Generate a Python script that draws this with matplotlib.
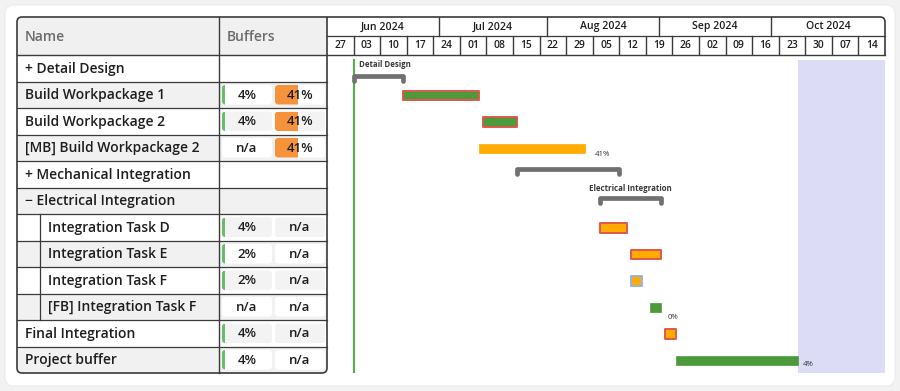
import matplotlib
matplotlib.use('Agg')
import matplotlib.pyplot as plt
import matplotlib.dates as mdates
from matplotlib.patches import FancyBboxPatch, Rectangle, PathPatch
from matplotlib.path import Path
import pandas as pd

plt.rcParams['font.family'] = ['Open Sans', 'DejaVu Sans']

# ---------------- data ----------------
task_names = ['+ Detail Design', 'Build Workpackage 1', 'Build Workpackage 2',
              '[MB] Build Workpackage 2', '+ Mechanical Integration',
              '\u2212 Electrical Integration', 'Integration Task D',
              'Integration Task E', 'Integration Task F',
              '[FB] Integration Task F', 'Final Integration', 'Project buffer']
task_indent = [0, 0, 0, 0, 0, 0, 1, 1, 1, 1, 0, 0]
task_kind = ['summary', 'task', 'task', 'buffer', 'summary', 'summary',
             'task', 'task', 'task', 'buffer', 'task', 'buffer']
task_start = ['2024-06-03', '2024-06-16', '2024-07-07', '2024-07-06',
              '2024-07-16', '2024-08-07', '2024-08-07', '2024-08-15',
              '2024-08-15', '2024-08-20', '2024-08-24', '2024-08-27']
task_end = ['2024-06-16', '2024-07-06', '2024-07-16', '2024-08-03',
            '2024-08-12', '2024-08-23', '2024-08-14', '2024-08-23',
            '2024-08-18', '2024-08-23', '2024-08-27', '2024-09-28']
bar_labels = ['Detail Design', '', '', '41%', '', 'Electrical Integration',
              '', '', '', '0%', '', '4%']
buffer_a = ['', 4, 4, 'n/a', '', '', 4, 2, 2, 'n/a', 4, 4]
buffer_b = ['', 41, 41, 41, '', '', 'n/a', 'n/a', 'n/a', 'n/a', 'n/a', 'n/a']

timeline_start = '2024-05-27'
timeline_end = '2024-10-21'
today = '2024-06-03'
shade_start = '2024-09-28'
month_labels = ['Jun 2024', 'Jul 2024', 'Aug 2024', 'Sep 2024', 'Oct 2024']
month_edges = ['2024-05-27 00:00', '2024-06-25 12:00', '2024-07-24 00:00',
               '2024-08-22 12:00', '2024-09-21 00:00', '2024-10-21 00:00']
week_labels = ['27', '03', '10', '17', '24', '01', '08', '15', '22', '29',
               '05', '12', '19', '26', '02', '09', '16', '23', '30', '07', '14']

# ---------------- styles ----------------
GREEN = '#4c9a3c'
ORANGE = '#ffab00'
RED_EDGE = '#e0574c'
BLUE_EDGE = '#92b4ea'
bar_fill = [None, GREEN, GREEN, ORANGE, None, None, ORANGE, ORANGE, ORANGE,
            GREEN, ORANGE, GREEN]
bar_edge = [None, RED_EDGE, RED_EDGE, None, None, None, RED_EDGE, RED_EDGE,
            BLUE_EDGE, None, RED_EDGE, None]
bracket_dy = [0.31, 0, 0, 0, -0.20, -0.085, 0, 0, 0, 0, 0, 0]
label_style = {0: dict(ha='left', dx=5, dy=-3.3, anchor='start', bold=True),
               5: dict(ha='center', dx=0, dy=-11.8, anchor='mid', bold=True),
               3: dict(ha='left', dx=10, dy=6.3, anchor='end', bold=False),
               9: dict(ha='left', dx=7, dy=10.3, anchor='end', bold=False),
               11: dict(ha='left', dx=5, dy=4.3, anchor='end', bold=False)}

W, H = 900, 391
TL, TR = 17, 327          # table x extents
NAME_R = 219
CH_R = 885                # chart right
TOP, HDR_B, BOT = 17, 55, 373
ROW_H = (BOT - HDR_B) / len(task_names)
LINE = '#3a3a3a'
ROW_GRAY = '#f1f1f1'
TXT = '#1e1e1e'

fig = plt.figure(figsize=(W / 100, H / 100), dpi=100, facecolor='#f2f2f3')

# background / table axes in pixel coordinates
axb = fig.add_axes([0, 0, 1, 1], zorder=0)
axb.set_xlim(0, W)
axb.set_ylim(H, 0)
axb.axis('off')
axb.add_patch(FancyBboxPatch((5, 5), W - 10, H - 10,
                             boxstyle='round,pad=0,rounding_size=9',
                             fc='white', ec='#ececec', lw=0.8))

clip_tbl = FancyBboxPatch((TL, TOP), TR - TL, BOT - TOP,
                          boxstyle='round,pad=0,rounding_size=5',
                          transform=axb.transData)

# header row fill
r = Rectangle((TL, TOP), TR - TL, HDR_B - TOP, fc='#f0f0f0', ec='none')
axb.add_patch(r)
r.set_clip_path(clip_tbl)
axb.text(25, (TOP + HDR_B) / 2 + 1, 'Name', fontsize=10, color='#6b6b6b',
         va='center', ha='left', fontweight='semibold')
axb.text(NAME_R + 8, (TOP + HDR_B) / 2 + 1, 'Buffers', fontsize=10,
         color='#6b6b6b', va='center', ha='left', fontweight='semibold')


def cell(x, val, y0, bg, fillc):
    cp = FancyBboxPatch((x, y0 + 3.5), 50, ROW_H - 7,
                        boxstyle='round,pad=0,rounding_size=3',
                        fc=bg, ec='none')
    axb.add_patch(cp)
    if isinstance(val, (int, float)):
        fr = Rectangle((x, y0 + 3.5), max(50 * val / 100 * 1.1, 3), ROW_H - 7,
                       fc=fillc, ec='none')
        axb.add_patch(fr)
        fr.set_clip_path(cp)
        s = f'{val}%'
    else:
        s = val
    axb.text(x + 25, y0 + ROW_H / 2 + 0.5, s, ha='center', va='center',
             fontsize=9.5, color=TXT, fontweight='semibold')


for i, name in enumerate(task_names):
    y0 = HDR_B + i * ROW_H
    gray = (i % 2 == 1)
    if gray:
        rr = Rectangle((TL, y0), TR - TL, ROW_H, fc=ROW_GRAY, ec='none')
        axb.add_patch(rr)
        rr.set_clip_path(clip_tbl)
    x_txt = 48 if task_indent[i] else 25
    axb.text(x_txt, y0 + ROW_H / 2 + 0.5, name, fontsize=10, color=TXT,
             va='center', ha='left', fontweight='semibold')
    sub_bg = 'white' if gray else '#f3f3f3'
    if buffer_a[i] != '':
        cell(222, buffer_a[i], y0, sub_bg, '#6cbb6a')
    if buffer_b[i] != '':
        cell(275, buffer_b[i], y0, sub_bg, '#f7923c')
    if i > 0:
        axb.plot([TL, TR], [y0, y0], color=LINE, lw=0.9)

# indent separator
ind_rows = [i for i, v in enumerate(task_indent) if v]
axb.plot([40, 40], [HDR_B + ind_rows[0] * ROW_H, HDR_B + (ind_rows[-1] + 1) * ROW_H],
         color=LINE, lw=0.9)
# column divider and header lines
axb.plot([NAME_R, NAME_R], [TOP, BOT], color=LINE, lw=1.0)
axb.plot([TL, CH_R], [HDR_B, HDR_B], color=LINE, lw=1.0)
axb.plot([TR, CH_R], [36, 36], color=LINE, lw=0.9)

# outer outline (table + timeline header)
rd = 5
verts = [(CH_R, HDR_B), (CH_R, TOP + rd), (CH_R, TOP), (CH_R - rd, TOP),
         (TL + rd, TOP), (TL, TOP), (TL, TOP + rd), (TL, BOT - rd), (TL, BOT),
         (TL + rd, BOT), (TR - rd, BOT), (TR, BOT), (TR, BOT - rd), (TR, TOP)]
codes = [Path.MOVETO, Path.LINETO, Path.CURVE3, Path.CURVE3, Path.LINETO,
         Path.CURVE3, Path.CURVE3, Path.LINETO, Path.CURVE3, Path.CURVE3,
         Path.LINETO, Path.CURVE3, Path.CURVE3, Path.LINETO]
axb.add_patch(PathPatch(Path(verts, codes), fill=False, ec=LINE, lw=1.2))

# ---------------- gantt axes ----------------
t0 = mdates.date2num(pd.Timestamp(timeline_start))
t1 = mdates.date2num(pd.Timestamp(timeline_end))
ax = fig.add_axes([TR / W, 1 - BOT / H, (CH_R - TR) / W, (BOT - HDR_B) / H],
                  zorder=1)
ax.patch.set_alpha(0)
ax.set_xlim(t0, t1)
ax.set_ylim(len(task_names), 0)
ax.axis('off')

top_frac = (BOT - 60) / (BOT - HDR_B)
ax.axvspan(mdates.date2num(pd.Timestamp(shade_start)), t1, ymin=0,
           ymax=top_frac, color='#dddcf7', lw=0, zorder=0)
td = mdates.date2num(pd.Timestamp(today))
ax.axvline(td, ymin=0, ymax=top_frac, color='#55b04a', lw=1.5, zorder=1)

starts = mdates.date2num(pd.to_datetime(task_start))
ends = mdates.date2num(pd.to_datetime(task_end))
px_row = 1 / ROW_H
for i in range(len(task_names)):
    s, e = starts[i], ends[i]
    yc = i + 0.5
    if task_kind[i] == 'summary':
        yb = yc + bracket_dy[i]
        tick = 5 * px_row
        ax.plot([s, s, e, e], [yb + tick, yb, yb, yb + tick], color='#707070',
                lw=3.4, solid_capstyle='round', solid_joinstyle='round',
                zorder=3)
    else:
        ec = bar_edge[i] if bar_edge[i] else bar_fill[i]
        lw = 1.4 if bar_edge[i] else 0.5
        bars = ax.barh(yc + 0.03, e - s, left=s, height=0.37,
                       color=bar_fill[i], edgecolor=ec, linewidth=lw, zorder=3)
        for b in bars:
            b.set_joinstyle('round')
    if bar_labels[i]:
        st = label_style[i]
        ax_x = {'start': s, 'end': e, 'mid': (s + e) / 2}[st['anchor']]
        ax.annotate(bar_labels[i], xy=(ax_x, yc), xytext=(st['dx'] * 0.72,
                    -st['dy'] * 0.72), textcoords='offset points',
                    ha=st['ha'], va='center',
                    fontsize=5.7 if st['bold'] else 5.6,
                    fontweight='bold' if st['bold'] else 'normal',
                    color='#3a3a3a' if st['bold'] else '#333333', zorder=4)

# ---------------- timeline header ----------------
axh = fig.add_axes([TR / W, 1 - HDR_B / H, (CH_R - TR) / W, (HDR_B - TOP) / H],
                   zorder=1)
axh.patch.set_alpha(0)
axh.set_xlim(t0, t1)
axh.set_ylim(2, 0)
axh.axis('off')
medges = mdates.date2num(pd.to_datetime(month_edges, format='%Y-%m-%d %H:%M'))
for k, lab in enumerate(month_labels):
    axh.text((medges[k] + medges[k + 1]) / 2, 0.52, lab, ha='center',
             va='center', fontsize=7.6, fontweight='semibold', color=TXT)
    if k > 0:
        axh.plot([medges[k], medges[k]], [0, 1], color=LINE, lw=1.0)
for k, lab in enumerate(week_labels):
    ws = t0 + 7 * k
    axh.text(ws + 3.5, 1.52, lab, ha='center', va='center', fontsize=7.4,
             fontweight='semibold', color=TXT)
    if k > 0:
        axh.plot([ws, ws], [1, 2], color=LINE, lw=1.0)

fig.savefig('out.png', dpi=100, facecolor=fig.get_facecolor())
